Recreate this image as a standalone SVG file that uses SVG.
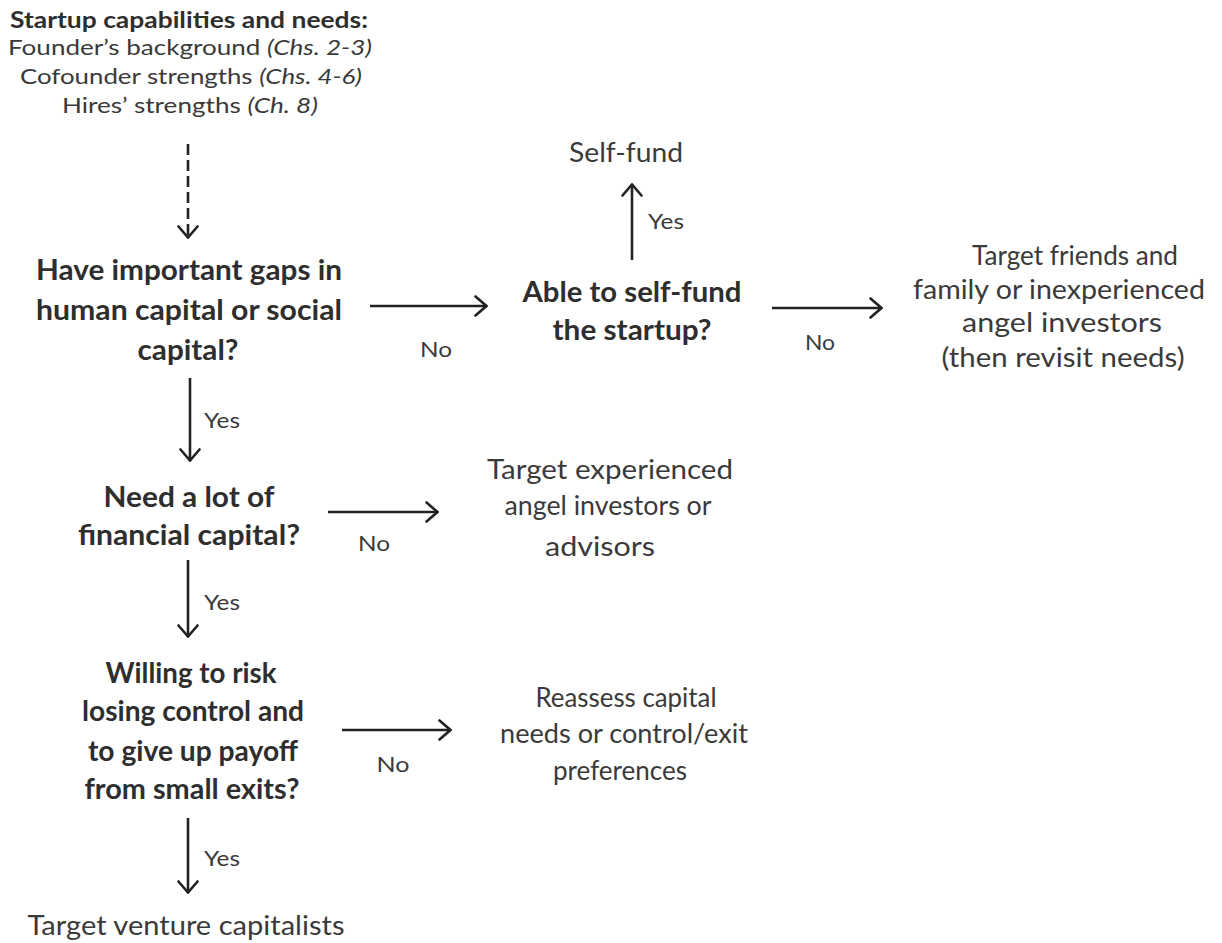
<svg xmlns="http://www.w3.org/2000/svg" width="1222" height="943" viewBox="0 0 1222 943">
  <defs>
    <marker id="open-arrow" viewBox="0 0 14 22" refX="13" refY="11" markerWidth="14" markerHeight="22" markerUnits="userSpaceOnUse" orient="auto">
      <polyline points="1.5,1.5 12.5,11 1.5,20.5" fill="none" stroke="#222" stroke-width="2.6" stroke-linecap="round" stroke-linejoin="miter"/>
    </marker>
    <style>
      text { font-family: Lato, "Open Sans", "Liberation Sans", sans-serif; fill: #3a3a3a; text-anchor: middle; }
      .head { font-size: 22px; font-weight: bold; fill: #2e2e2e; }
      .src { font-size: 22px; }
      .q { font-size: 28px; font-weight: bold; fill: #2e2e2e; }
      .out { font-size: 27px; }
      .lbl { font-size: 22px; }
      .lbl-l { font-size: 22px; text-anchor: start; }
      .it { font-style: italic; }
      .edge { fill: none; stroke: #222; stroke-width: 2.6; marker-end: url(#open-arrow); }
      .dashed { stroke-dasharray: 11 5; }
    </style>
  </defs>
  <rect width="1222" height="943" fill="#ffffff"/>

  <!-- Source block: startup capabilities -->
  <g id="capabilities">
    <text class="head" x="189" y="28" textLength="358" lengthAdjust="spacingAndGlyphs">Startup capabilities and needs:</text>
    <text class="src" x="190" y="55" textLength="364" lengthAdjust="spacingAndGlyphs">Founder’s background <tspan class="it">(Chs. 2-3)</tspan></text>
    <text class="src" x="191" y="84" textLength="342" lengthAdjust="spacingAndGlyphs">Cofounder strengths <tspan class="it">(Chs. 4-6)</tspan></text>
    <text class="src" x="190" y="113" textLength="256" lengthAdjust="spacingAndGlyphs">Hires’ strengths <tspan class="it">(Ch. 8)</tspan></text>
  </g>

  <!-- Decision: gaps in capital -->
  <g id="gaps">
    <text class="q" x="189" y="280" textLength="306" lengthAdjust="spacingAndGlyphs">Have important gaps in</text>
    <text class="q" x="189" y="320" textLength="306" lengthAdjust="spacingAndGlyphs">human capital or social</text>
    <text class="q" x="188" y="360" textLength="101" lengthAdjust="spacingAndGlyphs">capital?</text>
  </g>

  <!-- Decision: self-funding -->
  <g id="selffund-q">
    <text class="q" x="632" y="302" textLength="219" lengthAdjust="spacingAndGlyphs">Able to self-fund</text>
    <text class="q" x="632" y="340" textLength="159" lengthAdjust="spacingAndGlyphs">the startup?</text>
  </g>

  <g id="selffund">
    <text class="out" x="626" y="162" textLength="114" lengthAdjust="spacingAndGlyphs">Self-fund</text>
  </g>

  <g id="friends-family">
    <text class="out" x="1075" y="265" textLength="206" lengthAdjust="spacingAndGlyphs">Target friends and</text>
    <text class="out" x="1059" y="299" textLength="292" lengthAdjust="spacingAndGlyphs">family or inexperienced</text>
    <text class="out" x="1062" y="332" textLength="200" lengthAdjust="spacingAndGlyphs">angel investors</text>
    <text class="out" x="1063" y="367" textLength="243" lengthAdjust="spacingAndGlyphs">(then revisit needs)</text>
  </g>

  <!-- Decision: financial capital -->
  <g id="financial">
    <text class="q" x="189" y="507" textLength="171" lengthAdjust="spacingAndGlyphs">Need a lot of</text>
    <text class="q" x="189" y="545" textLength="222" lengthAdjust="spacingAndGlyphs">financial capital?</text>
  </g>

  <g id="experienced-angels">
    <text class="out" x="610" y="479" textLength="246" lengthAdjust="spacingAndGlyphs">Target experienced</text>
    <text class="out" x="608" y="515" textLength="207" lengthAdjust="spacingAndGlyphs">angel investors or</text>
    <text class="out" x="600" y="556" textLength="110" lengthAdjust="spacingAndGlyphs">advisors</text>
  </g>

  <!-- Decision: control and exits -->
  <g id="control">
    <text class="q" x="191" y="683" textLength="171" lengthAdjust="spacingAndGlyphs">Willing to risk</text>
    <text class="q" x="193" y="721" textLength="222" lengthAdjust="spacingAndGlyphs">losing control and</text>
    <text class="q" x="193" y="761" textLength="210" lengthAdjust="spacingAndGlyphs">to give up payoff</text>
    <text class="q" x="192" y="799" textLength="215" lengthAdjust="spacingAndGlyphs">from small exits?</text>
  </g>

  <g id="reassess">
    <text class="out" x="626" y="707" textLength="181" lengthAdjust="spacingAndGlyphs">Reassess capital</text>
    <text class="out" x="624" y="743" textLength="248" lengthAdjust="spacingAndGlyphs">needs or control/exit</text>
    <text class="out" x="620" y="780" textLength="134" lengthAdjust="spacingAndGlyphs">preferences</text>
  </g>

  <g id="venture">
    <text class="out" x="186" y="935" textLength="317" lengthAdjust="spacingAndGlyphs">Target venture capitalists</text>
  </g>

  <!-- Connectors -->
  <g id="connectors">
    <line class="edge dashed" x1="188" y1="144" x2="188" y2="238"/>
    <line class="edge" x1="370" y1="306" x2="487" y2="306"/>
    <line class="edge" x1="632" y1="260" x2="632" y2="184"/>
    <line class="edge" x1="772" y1="308" x2="882" y2="308"/>
    <line class="edge" x1="190" y1="378" x2="190" y2="461"/>
    <line class="edge" x1="328" y1="512" x2="438" y2="512"/>
    <line class="edge" x1="188" y1="560" x2="188" y2="637"/>
    <line class="edge" x1="342" y1="730" x2="451" y2="730"/>
    <line class="edge" x1="188" y1="818" x2="188" y2="893"/>

    <text class="lbl" x="436" y="357" textLength="32" lengthAdjust="spacingAndGlyphs">No</text>
    <text class="lbl-l" x="648" y="229" textLength="36" lengthAdjust="spacingAndGlyphs">Yes</text>
    <text class="lbl" x="820" y="350" textLength="30" lengthAdjust="spacingAndGlyphs">No</text>
    <text class="lbl-l" x="204" y="428" textLength="36" lengthAdjust="spacingAndGlyphs">Yes</text>
    <text class="lbl" x="374" y="551" textLength="32" lengthAdjust="spacingAndGlyphs">No</text>
    <text class="lbl-l" x="204" y="610" textLength="36" lengthAdjust="spacingAndGlyphs">Yes</text>
    <text class="lbl" x="393" y="772" textLength="33" lengthAdjust="spacingAndGlyphs">No</text>
    <text class="lbl-l" x="204" y="866" textLength="36" lengthAdjust="spacingAndGlyphs">Yes</text>
  </g>
</svg>
